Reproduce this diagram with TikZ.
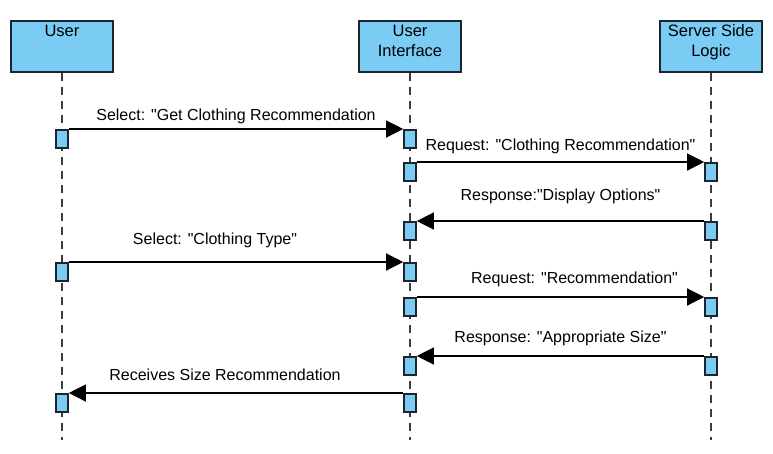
\documentclass[tikz,border=0pt]{standalone}
\usepackage{fontspec}
\setmainfont{Liberation Sans}[Ligatures=TeXOff]
\usetikzlibrary{arrows.meta}
\definecolor{boxblue}{RGB}{122,204,245}
\definecolor{edgedark}{RGB}{28,36,46}
\definecolor{lifegray}{RGB}{60,60,60}

\tikzset{
  headbox/.style={draw=edgedark, line width=2pt, fill=boxblue, minimum width=102pt, minimum height=51pt, inner sep=0pt, anchor=north},
  actbox/.style={draw=edgedark, line width=1.6pt, fill=boxblue, minimum width=12pt, minimum height=18pt, inner sep=0pt, anchor=north},
  lifeline/.style={line width=1.8pt, draw=lifegray, dash pattern=on 8pt off 6pt},
  msg/.style={line width=1.3pt, -{Triangle[length=17pt,width=17pt]}},
  msglabel/.style={font=\fontsize{16}{19}\selectfont, inner sep=0pt}
}
\newcommand{\headtext}[1]{\parbox[c][49pt][t]{100pt}{\vspace*{3pt}\centering\fontsize{16.5}{20}\selectfont #1}}

\begin{document}
\begin{tikzpicture}[x=1pt,y=-1pt]
\useasboundingbox (0,0) rectangle (773,453);
% heads
\node[headbox] (user) at (62,20) {\headtext{User}};
\node[headbox] (ui) at (410,20) {\headtext{User\\Interface}};
\node[headbox] (server) at (711,20) {\headtext{Server Side\\Logic}};
% lifelines
\coordinate (userend) at (62,440);
\coordinate (uiend) at (410,440);
\coordinate (serverend) at (711,440);
\draw[lifeline] (user) -- (userend);
\draw[lifeline] (ui) -- (uiend);
\draw[lifeline] (server) -- (serverend);
% activations
\node[actbox] (u1) at (62,129) {};
\node[actbox] (i1) at (410,129) {};
\node[actbox] (i2) at (410,162) {};
\node[actbox] (s2) at (711,162) {};
\node[actbox] (s3) at (711,221) {};
\node[actbox] (i3) at (410,221) {};
\node[actbox] (u4) at (62,262) {};
\node[actbox] (i4) at (410,262) {};
\node[actbox] (i5) at (410,297) {};
\node[actbox] (s5) at (711,297) {};
\node[actbox] (s6) at (711,356) {};
\node[actbox] (i6) at (410,356) {};
\node[actbox] (i7) at (410,393) {};
\node[actbox] (u7) at (62,393) {};
% messages
\draw[msg] (u1.north east) -- node[msglabel, yshift=13pt] {Select: "Get Clothing Recommendation} (i1.north west);
\draw[msg] (i2.north east) -- node[msglabel, yshift=16pt] {Request: "Clothing Recommendation"} (s2.north west);
\draw[msg] (s3.north west) -- node[msglabel, yshift=25pt] {Response:"Display Options"} (i3.north east);
\draw[msg] (u4.north east) -- node[msglabel, yshift=22pt, xshift=-21pt] {Select: "Clothing Type"} (i4.north west);
\draw[msg] (i5.north east) -- node[msglabel, yshift=18pt, xshift=14pt] {Request: "Recommendation"} (s5.north west);
\draw[msg] (s6.north west) -- node[msglabel, yshift=18pt] {Response: "Appropriate Size"} (i6.north east);
\draw[msg] (i7.north west) -- node[msglabel, yshift=18pt, xshift=-11pt] {Receives Size Recommendation} (u7.north east);
\end{tikzpicture}
\end{document}
